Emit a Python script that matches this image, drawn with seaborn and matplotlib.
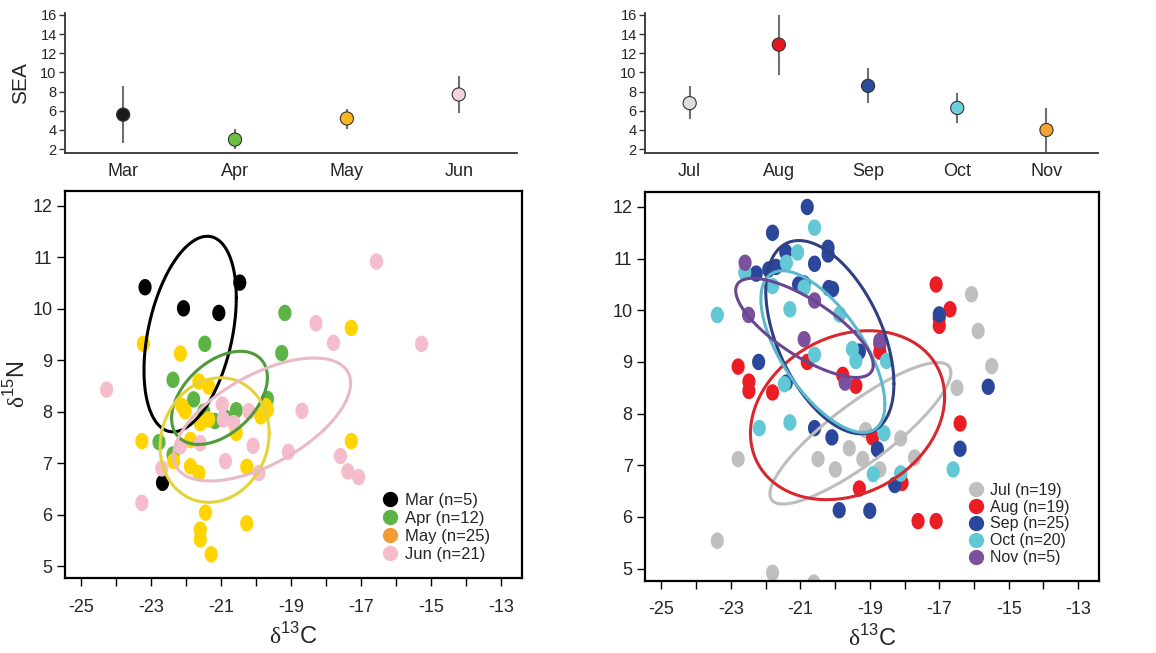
import numpy as np
import pandas as pd
import matplotlib
matplotlib.use("Agg")
import matplotlib.pyplot as plt
from matplotlib.path import Path
from matplotlib.lines import Line2D
import seaborn as sns

sns.set_theme(style="ticks")
plt.rcParams["font.family"] = ["Liberation Sans", "DejaVu Sans"]
plt.rcParams["mathtext.fontset"] = "custom"
plt.rcParams["mathtext.rm"] = "Liberation Serif"
plt.rcParams["mathtext.sf"] = "Liberation Sans"

# -- SEA estimates (top panels)
spring_months = ["Mar", "Apr", "May", "Jun"]
spring_sea = [5.6, 3.0, 5.2, 7.7]
spring_lo = [2.6, 2.0, 4.1, 5.8]
spring_hi = [8.6, 4.1, 6.2, 9.6]

autumn_months = ["Jul", "Aug", "Sep", "Oct", "Nov"]
autumn_sea = [6.8, 12.9, 8.6, 6.3, 4.0]
autumn_lo = [5.1, 9.7, 6.8, 4.7, 1.7]
autumn_hi = [8.6, 16.0, 10.5, 7.9, 6.3]

# -- isotope values (d13C, d15N)
mar_x = [-23.18, -22.08, -21.07, -20.47, -22.68]
mar_y = [10.42, 10.01, 9.92, 10.51, 6.62]
apr_x = [-19.18, -19.27, -21.47, -22.38, -21.79, -20.57, -19.68, -21.18, -22.78, -22.38, -21.5, -20.9]
apr_y = [9.92, 9.14, 9.32, 8.62, 8.24, 8.03, 8.25, 7.82, 7.41, 7.17, 8.0, 7.9]
may_x = [-23.23, -22.17, -17.28, -17.28, -23.27, -21.64, -21.36, -22.12, -22.03, -21.6, -21.36, -21.88, -22.36,
         -21.88, -21.64, -20.57, -20.27, -19.87, -19.68, -21.45, -21.6, -21.6, -21.29, -20.27, -19.73]
may_y = [9.32, 9.13, 9.63, 7.43, 7.43, 8.59, 8.49, 8.11, 8.01, 7.78, 7.85, 7.45, 7.04,
         6.94, 6.81, 7.59, 6.93, 7.91, 8.04, 6.04, 5.71, 5.52, 5.23, 5.83, 8.11]
jun_x = [-24.28, -23.27, -16.56, -15.27, -18.29, -17.79, -18.69, -19.08, -20.09, -20.88, -20.97, -20.94, -17.59,
         -17.38, -17.07, -19.92, -21.6, -20.21, -22.7, -22.17, -20.64]
jun_y = [8.43, 6.23, 10.92, 9.32, 9.72, 9.34, 8.02, 7.22, 7.34, 7.04, 8.14, 7.85, 7.14,
         6.84, 6.73, 6.81, 7.39, 8.01, 6.9, 7.33, 7.78]

jul_x = [-16.07, -15.88, -15.49, -16.49, -18.11, -17.71, -18.71, -19.2, -19.59, -19.99, -20.49, -22.79, -23.39,
         -21.8, -20.61, -19.12, -18.11, -18.92, -18.28]
jul_y = [10.31, 9.6, 8.92, 8.5, 7.52, 7.15, 6.92, 7.12, 7.33, 6.92, 7.12, 7.12, 5.54,
         4.92, 4.73, 7.68, 6.84, 7.54, 6.62]
aug_x = [-17.09, -16.69, -17.0, -16.4, -18.71, -20.8, -19.78, -19.4, -22.79, -22.48, -22.48, -21.8, -18.92,
         -19.3, -18.07, -17.61, -17.09, -17.0, -18.71]
aug_y = [10.5, 10.02, 9.70, 7.81, 9.2, 9.0, 8.75, 8.54, 8.91, 8.62, 8.44, 8.41, 7.54,
         6.55, 6.66, 5.92, 5.92, 9.85, 9.35]
sep_x = [-20.8, -21.8, -21.42, -20.2, -20.2, -20.59, -22.27, -21.91, -21.7, -20.89, -20.18, -20.07, -17.0,
         -22.2, -15.59, -20.59, -20.09, -18.78, -16.4, -18.28, -19.88, -19.0, -21.4, -21.05, -19.3]
sep_y = [12.0, 11.5, 11.13, 11.21, 11.08, 10.9, 10.71, 10.79, 10.84, 10.52, 10.43, 10.41, 9.92,
         9.0, 8.52, 7.72, 7.54, 7.31, 7.32, 6.62, 6.13, 6.12, 8.6, 10.5, 9.2]
oct_x = [-20.59, -21.08, -21.4, -22.6, -21.8, -20.89, -23.39, -21.3, -19.87, -20.59, -19.5, -19.4, -18.52,
         -21.46, -22.18, -21.3, -18.59, -18.9, -18.11, -16.6]
oct_y = [11.6, 11.12, 10.92, 10.73, 10.47, 10.44, 9.91, 10.02, 9.92, 9.14, 9.25, 9.02, 9.02,
         8.57, 7.72, 7.83, 7.62, 6.83, 6.84, 6.92]
nov_x = [-22.59, -22.49, -20.59, -20.89, -18.71, -19.71]
nov_y = [10.92, 9.91, 10.19, 9.44, 9.41, 8.6]

# -- standard ellipses: centre, half extent in x / y, x offset of the top point
spring_ell_cx = [-21.89, -21.05, -21.19, -19.83]
spring_ell_cy = [9.51, 8.27, 7.45, 7.85]
spring_ell_hx = [1.32, 1.37, 1.56, 2.53]
spring_ell_hy = [1.90, 0.905, 1.21, 1.195]
spring_ell_tx = [0.49, 0.60, 0.17, 1.49]

autumn_ell_cx = [-19.27, -19.64, -20.15, -20.35, -20.88]
autumn_ell_cy = [7.62, 7.97, 9.48, 9.2, 9.66]
autumn_ell_hx = [2.605, 2.795, 1.845, 1.785, 1.98]
autumn_ell_hy = [1.37, 1.635, 1.87, 1.565, 0.96]
autumn_ell_tx = [2.23, 0.6, -0.89, -1.16, -1.49]

spring_n = ["Mar (n=5)", "Apr (n=12)", "May (n=25)", "Jun (n=21)"]
autumn_n = ["Jul (n=19)", "Aug (n=19)", "Sep (n=25)", "Oct (n=20)", "Nov (n=5)"]

# colours
spring_pt = ["#000000", "#5db445", "#ffd400", "#f5bccb"]
spring_line = ["#000000", "#4f9a3a", "#e3d23c", "#eab9c6"]
spring_leg = ["#000000", "#5db445", "#f39c32", "#f5bccb"]
spring_sea_col = ["#1a1a1a", "#6cbf45", "#f6b81a", "#f3d3dc"]
autumn_pt = ["#bfbfbf", "#ec1c24", "#2b479c", "#62c8d5", "#7b519d"]
autumn_line = ["#bdbdbd", "#d7282f", "#2e3f82", "#5ab9cc", "#6a4591"]
autumn_sea_col = ["#dedede", "#e8161e", "#2f4b9b", "#6fcfdc", "#f2a531"]

t = np.linspace(0, 2 * np.pi, 300)
oval = Path(np.column_stack([0.8 * np.cos(t), np.sin(t)]), closed=True)

fig = plt.figure(figsize=(11.56, 6.53), dpi=100)
ax_sl = fig.add_axes([0.0562, 0.7657, 0.391, 0.2144])
ax_sr = fig.add_axes([0.558, 0.7657, 0.392, 0.2144])
ax_bl = fig.add_axes([0.0562, 0.1149, 0.3953, 0.5926])
ax_br = fig.add_axes([0.558, 0.111, 0.3927, 0.595])


def sea_panel(ax, months, sea, lo, hi, cols, xlim):
    pos = np.arange(len(months))
    ax.vlines(pos, lo, hi, color="#707070", lw=1.5, zorder=1)
    sns.scatterplot(x=pos, y=sea, hue=months, palette=cols, s=90, edgecolor="#333333",
                    linewidth=0.8, legend=False, ax=ax, zorder=2)
    ax.set_xlim(*xlim)
    ax.set_ylim(1.6, 16.2)
    ax.set_yticks(range(2, 17, 2))
    ax.set_xticks(pos)
    ax.set_xticklabels(months, fontsize=13)
    ax.tick_params(axis="x", length=0, pad=7)
    ax.tick_params(axis="y", length=4, width=1, labelsize=10.5, pad=2, color="#333333")
    sns.despine(ax=ax)
    for s in ["left", "bottom"]:
        ax.spines[s].set_color("#333333")
        ax.spines[s].set_linewidth(1.3)


sea_panel(ax_sl, spring_months, spring_sea, spring_lo, spring_hi, spring_sea_col, (-0.52, 3.52))
sea_panel(ax_sr, autumn_months, autumn_sea, autumn_lo, autumn_hi, autumn_sea_col, (-0.5, 4.58))
ax_sl.set_ylabel("SEA", fontsize=15, labelpad=7)


def iso_panel(ax, names, xs, ys, pts, lines, ell, legend_cols, labels, anchor, fsize, spacing):
    df = pd.concat([pd.DataFrame({"d13C": x, "d15N": y, "month": n})
                    for n, x, y in zip(names, xs, ys)], ignore_index=True)
    sns.scatterplot(data=df, x="d13C", y="d15N", hue="month", palette=pts, marker=oval,
                    s=140, linewidth=0, legend=False, ax=ax, zorder=2)
    for cx, cy, hx, hy, tx, c in zip(*ell, lines):
        l21 = tx * hy / hx
        l22 = np.sqrt(hy ** 2 - l21 ** 2)
        ax.plot(cx + hx * np.cos(t), cy + l21 * np.cos(t) + l22 * np.sin(t), color=c, lw=2.2, zorder=3)
    ax.set_xlim(-25.47, -12.4)
    ax.set_ylim(4.77, 12.29)
    ax.set_xticks(range(-25, -12))
    ax.set_xticklabels([str(v) if v % 2 else "" for v in range(-25, -12)])
    ax.set_yticks(range(5, 13))
    ax.tick_params(length=6, width=1, color="black", labelsize=13)
    ax.tick_params(axis="x", pad=9)
    ax.tick_params(axis="y", pad=3)
    for s in ax.spines.values():
        s.set_color("black")
        s.set_linewidth(1.6)
    ax.set_xlabel(r"$\mathrm{\delta}^{\mathsf{13}}$C", fontsize=17, labelpad=5)
    ax.set_ylabel("")
    handles = [Line2D([], [], marker="o", ls="", color=c, markersize=10) for c in legend_cols]
    ax.legend(handles, labels, loc="upper left", bbox_to_anchor=anchor, frameon=False,
              fontsize=fsize, handlelength=0.8, handletextpad=0.5, labelspacing=spacing,
              borderpad=0, borderaxespad=0)


iso_panel(ax_bl, spring_months, [mar_x, apr_x, may_x, jun_x], [mar_y, apr_y, may_y, jun_y],
          spring_pt, spring_line,
          (spring_ell_cx, spring_ell_cy, spring_ell_hx, spring_ell_hy, spring_ell_tx),
          spring_leg, spring_n, (0.696, 0.219), 12, 0.17)
iso_panel(ax_br, autumn_months, [jul_x, aug_x, sep_x, oct_x, nov_x], [jul_y, aug_y, sep_y, oct_y, nov_y],
          autumn_pt, autumn_line,
          (autumn_ell_cx, autumn_ell_cy, autumn_ell_hx, autumn_ell_hy, autumn_ell_tx),
          autumn_pt, autumn_n, (0.714, 0.252), 11.5, 0.12)
ax_bl.set_ylabel(r"$\mathrm{\delta}^{\mathsf{15}}$N", fontsize=17, labelpad=2)

fig.savefig("out.png", dpi=100, facecolor="white")
